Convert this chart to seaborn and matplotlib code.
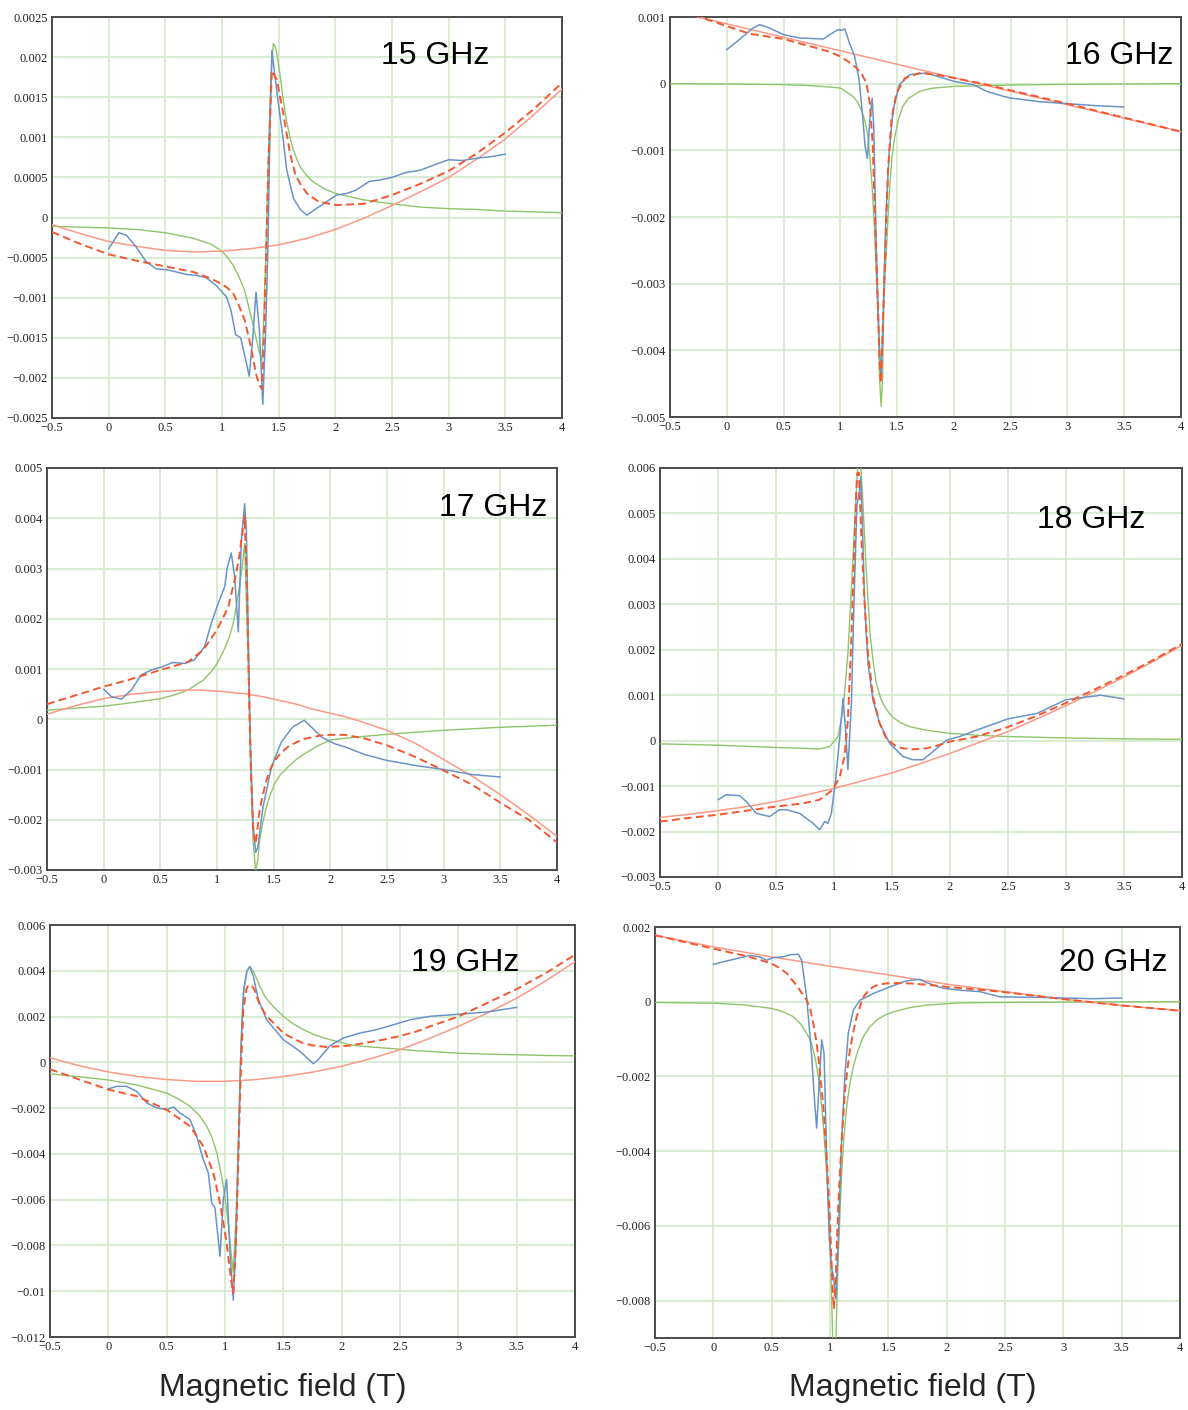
import matplotlib
matplotlib.use("Agg")
import matplotlib.pyplot as plt
from matplotlib.ticker import MultipleLocator, FuncFormatter
import seaborn as sns

# ---------------- 15 GHz ----------------
f15_data_x = [0, 0.09, 0.156, 0.244, 0.33, 0.42, 0.51, 0.6, 0.685, 0.77, 0.86, 0.95, 1.04, 1.08, 1.12,
              1.165, 1.21, 1.24, 1.27, 1.30, 1.33, 1.36, 1.385, 1.405, 1.425, 1.44, 1.49, 1.54, 1.57,
              1.63, 1.69, 1.75, 1.82, 1.9, 2.01, 2.1, 2.18, 2.3, 2.4, 2.5, 2.62, 2.75, 2.88, 3.0,
              3.12, 3.25, 3.38, 3.5]
f15_data_y = [-0.00039, -0.00019, -0.00022, -0.00037, -0.00055, -0.00064, -0.00065, -0.00068, -0.00071,
              -0.00072, -0.00075, -0.00085, -0.00099, -0.00116, -0.00146, -0.0015, -0.00178, -0.00198,
              -0.00153, -0.00093, -0.00141, -0.00233, -0.00141, -0.00037, 0.0012, 0.00208, 0.0015,
              0.00097, 0.0006, 0.00024, 0.0001, 0.00003, 0.0001, 0.000175, 0.00028, 0.0003, 0.00034,
              0.00045, 0.00047, 0.0005, 0.00056, 0.00059, 0.00066, 0.00072, 0.00071, 0.00074, 0.00076,
              0.00079]
f15_lor_x = [-0.5, -0.25, 0, 0.25, 0.5, 0.75, 0.9, 1.0, 1.05, 1.1, 1.15, 1.2, 1.25, 1.28, 1.3, 1.33,
             1.353, 1.37, 1.39, 1.41, 1.43, 1.453, 1.47, 1.483, 1.51, 1.54, 1.57, 1.6, 1.63, 1.66, 1.69,
             1.75, 1.8, 1.9, 2.0, 2.25, 2.5, 2.75, 3.0, 3.25, 3.5, 3.75, 4.0]
f15_lor_y = [-0.00011, -0.00012, -0.00013, -0.00015, -0.00019, -0.00026, -0.00033, -0.00042, -0.0005,
             -0.0006, -0.00074, -0.00091, -0.0012, -0.00137, -0.0015, -0.00168, -0.00178, -0.0012,
             -0.0003, 0.0008, 0.0017, 0.00217, 0.00213, 0.00205, 0.0018, 0.00147, 0.0012, 0.001,
             0.00084, 0.00073, 0.00063, 0.00052, 0.00045, 0.00036, 0.0003, 0.00022, 0.00017, 0.00013,
             0.00011, 0.0001, 0.00008, 0.00007, 0.00006]
f15_bg_x = [-0.5, -0.25, 0, 0.25, 0.5, 0.75, 1.0, 1.25, 1.5, 1.75, 2.0, 2.25, 2.5, 2.75, 3.0, 3.25, 3.5, 3.75, 4.0]
f15_bg_y = [-0.00009, -0.0002, -0.0003, -0.00036, -0.00041, -0.00043, -0.00042, -0.00039, -0.00034,
            -0.00026, -0.00015, -0.00001, 0.00015, 0.00032, 0.0005, 0.00073, 0.00098, 0.00128, 0.0016]
f15_fit_x = [-0.5, -0.25, 0, 0.25, 0.5, 0.75, 0.9, 1.0, 1.05, 1.1, 1.15, 1.2, 1.25, 1.28, 1.3, 1.33,
             1.353, 1.37, 1.39, 1.41, 1.44, 1.483, 1.54, 1.6, 1.65, 1.7, 1.75, 1.85, 2.0, 2.25, 2.5,
             2.75, 3.0, 3.25, 3.5, 3.75, 4.0]
f15_fit_y = [-0.00018, -0.00033, -0.00046, -0.00054, -0.00061, -0.00068, -0.00076, -0.00083, -0.00088,
             -0.00095, -0.0011, -0.00128, -0.00158, -0.0018, -0.00195, -0.00209, -0.00214, -0.0015,
             -0.0004, 0.0007, 0.00183, 0.00172, 0.0013, 0.0008, 0.00052, 0.0004, 0.0003, 0.0002,
             0.000155, 0.00017, 0.00028, 0.00042, 0.00058, 0.0008, 0.00106, 0.00135, 0.00168]

# ---------------- 16 GHz ----------------
f16_data_x = [0, 0.11, 0.23, 0.29, 0.376, 0.5, 0.64, 0.85, 0.906, 0.98, 1.01, 1.04, 1.08, 1.126, 1.165,
              1.194, 1.218, 1.238, 1.26, 1.28, 1.294, 1.318, 1.34, 1.359, 1.376, 1.40, 1.43, 1.465, 1.52,
              1.61, 1.76, 2.0, 2.17, 2.29, 2.435, 2.5, 2.75, 3.0, 3.25, 3.5]
f16_data_y = [0.00051, 0.00066, 0.000835, 0.000885, 0.000835, 0.000735, 0.000685, 0.00067, 0.000735,
              0.00081, 0.0008, 0.00082, 0.00061, 0.00041, 0.00006, -0.00044, -0.00094, -0.00112, -0.00054,
              -0.000215, -0.00064, -0.00254, -0.00379, -0.00444, -0.00354, -0.00204, -0.00104, -0.00039,
              -0.000015, 0.000135, 0.00016, 0.000035, -0.000015, -0.000115, -0.00019, -0.000215, -0.00027,
              -0.0003, -0.00033, -0.00035]
f16_lor_x = [-0.5, 0, 0.5, 0.75, 0.9, 1.0, 1.05, 1.11, 1.15, 1.185, 1.215, 1.244, 1.26, 1.28, 1.295,
             1.31, 1.32, 1.335, 1.345, 1.359, 1.373, 1.38, 1.39, 1.405, 1.42, 1.435, 1.455, 1.48, 1.51,
             1.55, 1.6, 1.7, 1.8, 2.0, 2.25, 2.5, 3.0, 4.0]
f16_lor_y = [0, -0.000005, -0.000015, -0.00003, -0.00005, -0.000065, -0.00012, -0.00019, -0.00027,
             -0.00039, -0.00055, -0.00079, -0.0011, -0.00154, -0.002, -0.00254, -0.003, -0.00354,
             -0.0044, -0.00484, -0.0044, -0.00354, -0.003, -0.00254, -0.002, -0.00154, -0.0011,
             -0.00079, -0.00055, -0.00034, -0.00022, -0.000115, -0.00007, -0.00004, -0.00003, -0.00002,
             -0.00001, 0]
f16_bg_x = [-0.5, 4.0]
f16_bg_y = [0.0011, -0.00072]
f16_fit_x = [-0.5, -0.24, 0.2, 0.35, 0.5, 0.65, 0.79, 0.9, 1.0, 1.07, 1.14, 1.19, 1.23, 1.26, 1.285,
             1.305, 1.33, 1.348, 1.358, 1.376, 1.40, 1.42, 1.45, 1.494, 1.57, 1.70, 1.85, 2.0, 2.29,
             2.5, 3.0, 3.5, 4.0]
f16_fit_y = [0.0011, 0.001, 0.00075, 0.00071, 0.00067, 0.0006, 0.000535, 0.00048, 0.00041, 0.00033,
             0.00024, 0.00014, 0.00001, -0.0003, -0.0009, -0.002, -0.0033, -0.0043, -0.00449, -0.00354,
             -0.00229, -0.00129, -0.00054, -0.00014, 0.000085, 0.00016, 0.000135, 0.000085, -0.000015,
             -0.0001, -0.0003, -0.00051, -0.00072]

# ---------------- 17 GHz ----------------
f17_data_x = [0, 0.068, 0.156, 0.244, 0.33, 0.42, 0.51, 0.61, 0.715, 0.80, 0.89, 0.95, 1.0, 1.068, 1.09,
              1.126, 1.156, 1.188, 1.215, 1.244, 1.259, 1.274, 1.294, 1.318, 1.341, 1.36, 1.406, 1.48,
              1.568, 1.67, 1.77, 1.83, 1.92, 2.04, 2.13, 2.3, 2.5, 2.75, 3.0, 3.25, 3.5]
f17_data_y = [0.0006, 0.00045, 0.0004, 0.00058, 0.00088, 0.00098, 0.00104, 0.00113, 0.00111, 0.00118,
              0.00144, 0.00191, 0.00224, 0.00264, 0.00301, 0.00331, 0.00284, 0.00174, 0.00357, 0.00429,
              0.00377, 0.00191, -0.00042, -0.00208, -0.00265, -0.00255, -0.00175, -0.00095, -0.00045,
              -0.00015, -0.00002, -0.00015, -0.00035, -0.00049, -0.00055, -0.0007, -0.00082, -0.00092,
              -0.001, -0.0011, -0.00115]
f17_lor_x = [-0.5, -0.25, 0, 0.25, 0.5, 0.62, 0.744, 0.88, 0.95, 1.0, 1.05, 1.10, 1.14, 1.17, 1.195,
             1.215, 1.23, 1.244, 1.274, 1.294, 1.318, 1.341, 1.36, 1.376, 1.4, 1.435, 1.47, 1.51, 1.56,
             1.626, 1.7, 1.77, 1.88, 2.0, 2.25, 2.5, 2.75, 3.0, 3.25, 3.5, 3.75, 4.0]
f17_lor_y = [0.00018, 0.00022, 0.00026, 0.00033, 0.00041, 0.00048, 0.00058, 0.00078, 0.00095, 0.00111,
             0.00132, 0.00158, 0.00188, 0.00224, 0.0026, 0.00291, 0.0032, 0.0035, 0.00124, -0.00075,
             -0.00242, -0.00301, -0.0028, -0.00242, -0.0021, -0.00175, -0.0015, -0.00128, -0.0011,
             -0.00095, -0.0008, -0.00069, -0.00054, -0.00041, -0.00035, -0.0003, -0.00026, -0.00022,
             -0.00019, -0.00016, -0.00014, -0.00012]
f17_bg_x = [-0.5, -0.25, 0, 0.25, 0.5, 0.7, 0.86, 1.0, 1.24, 1.4, 1.54, 1.7, 1.83, 2.0, 2.13, 2.25, 2.5,
            2.75, 3.0, 3.25, 3.5, 3.75, 4.0]
f17_bg_y = [0.0001, 0.00027, 0.00041, 0.0005, 0.00055, 0.00058, 0.00058, 0.00056, 0.00051, 0.00045,
            0.00038, 0.0003, 0.00021, 0.00012, 0.00005, -0.00003, -0.00022, -0.00048, -0.0008, -0.00113,
            -0.0015, -0.0019, -0.00233]
f17_fit_x = [-0.5, 0, 0.215, 0.5, 0.744, 0.88, 1.0, 1.06, 1.10, 1.17, 1.2, 1.215, 1.244, 1.265, 1.282,
             1.30, 1.32, 1.341, 1.376, 1.4, 1.435, 1.47, 1.51, 1.56, 1.626, 1.7, 1.77, 1.92, 2.0, 2.13,
             2.3, 2.5, 2.75, 3.0, 3.25, 3.5, 3.75, 4.0]
f17_fit_y = [0.0003, 0.00065, 0.00078, 0.00098, 0.00114, 0.00138, 0.00178, 0.00205, 0.00224, 0.00291,
             0.0033, 0.00357, 0.00404, 0.00258, 0.00058, -0.00108, -0.00222, -0.00248, -0.00182,
             -0.00155, -0.00122, -0.001, -0.00082, -0.00068, -0.00055, -0.00046, -0.00039, -0.00032,
             -0.00031, -0.00031, -0.00038, -0.00052, -0.00075, -0.00102, -0.0013, -0.00166, -0.002,
             -0.00245]

# ---------------- 18 GHz ----------------
f18_data_x = [0, 0.07, 0.187, 0.244, 0.33, 0.445, 0.53, 0.59, 0.704, 0.82, 0.876, 0.92, 0.948, 0.977,
              1.014, 1.05, 1.078, 1.1, 1.12, 1.15, 1.172, 1.198, 1.216, 1.23, 1.244, 1.264, 1.293, 1.336,
              1.394, 1.48, 1.595, 1.68, 1.767, 1.853, 1.97, 2.083, 2.227, 2.5, 2.75, 3.0, 3.3, 3.5]
f18_data_y = [-0.0013, -0.00119, -0.00121, -0.00134, -0.0016, -0.00167, -0.00152, -0.00152, -0.0016,
              -0.00182, -0.00196, -0.00178, -0.00182, -0.0016, -0.00086, 0.00009, 0.00093, 0.00023,
              -0.00064, 0.00082, 0.00302, 0.00521, 0.00543, 0.0058, 0.00485, 0.00302, 0.0017, 0.00089,
              0.00038, -0.00006, -0.00035, -0.00042, -0.00042, -0.00024, 0.00001, 0.00009, 0.00023,
              0.00048, 0.0006, 0.0009, 0.001, 0.00092]
f18_lor_x = [-0.5, 0, 0.5, 0.876, 0.963, 1.034, 1.078, 1.12, 1.158, 1.19, 1.218, 1.246, 1.278, 1.295,
             1.313, 1.34, 1.365, 1.4, 1.437, 1.47, 1.5, 1.57, 1.652, 1.72, 1.796, 2.0, 2.23, 2.5, 3.0,
             3.5, 4.0]
f18_lor_y = [-0.00007, -0.0001, -0.00015, -0.00018, -0.00013, 0.00009, 0.00067, 0.00192, 0.00375,
             0.0054, 0.0066, 0.0054, 0.00375, 0.003, 0.00228, 0.0017, 0.00126, 0.00095, 0.00075, 0.00063,
             0.00053, 0.0004, 0.00031, 0.00027, 0.00023, 0.00016, 0.00012, 0.00009, 0.00006, 0.00004,
             0.00003]
f18_bg_x = [-0.5, -0.25, 0, 0.25, 0.5, 0.75, 1.0, 1.25, 1.5, 1.75, 2.0, 2.25, 2.5, 2.75, 3.0, 3.25, 3.5,
            3.75, 4.0]
f18_bg_y = [-0.00169, -0.00162, -0.00154, -0.00145, -0.00134, -0.0012, -0.00105, -0.00088, -0.00071,
            -0.0005, -0.00028, -0.00004, 0.0002, 0.00048, 0.00077, 0.00108, 0.0014, 0.00174, 0.0021]
f18_fit_x = [-0.5, -0.25, 0, 0.25, 0.5, 0.733, 0.876, 0.99, 1.05, 1.09, 1.12, 1.15, 1.178, 1.198, 1.215,
             1.236, 1.264, 1.293, 1.336, 1.394, 1.45, 1.537, 1.6, 1.68, 1.796, 1.9, 2.0, 2.23, 2.5,
             2.75, 3.0, 3.25, 3.5, 3.75, 4.0]
f18_fit_y = [-0.00178, -0.0017, -0.00163, -0.00154, -0.00145, -0.00138, -0.0013, -0.00108, -0.00079,
             -0.00035, 0.00045, 0.00228, 0.00448, 0.00587, 0.0059, 0.00448, 0.00302, 0.00192, 0.00097,
             0.00038, 0.00005, -0.00013, -0.00017, -0.00019, -0.00017, -0.0001, -0.00002, 0.00009,
             0.0003, 0.00055, 0.00083, 0.00113, 0.00144, 0.00177, 0.00213]

# ---------------- 19 GHz ----------------
f19_data_x = [0, 0.071, 0.157, 0.243, 0.329, 0.414, 0.5, 0.557, 0.614, 0.7, 0.757, 0.814, 0.857, 0.886,
              0.914, 0.957, 0.986, 1.014, 1.043, 1.071, 1.094, 1.114, 1.134, 1.157, 1.186, 1.214, 1.243,
              1.286, 1.357, 1.5, 1.643, 1.757, 1.8, 1.9, 2.014, 2.157, 2.3, 2.443, 2.586, 2.757, 3.0,
              3.25, 3.5]
f19_data_y = [-0.00116, -0.00105, -0.00105, -0.00127, -0.00177, -0.00199, -0.00207, -0.00195, -0.00221,
              -0.0025, -0.00323, -0.00425, -0.00483, -0.00614, -0.00636, -0.00847, -0.00599, -0.00512,
              -0.00832, -0.01039, -0.00788, -0.00396, 0.00012, 0.00303, 0.00397, 0.00419, 0.00375,
              0.00273, 0.00186, 0.00099, 0.00048, -0.00006, 0.00012, 0.00073, 0.00106, 0.00128, 0.00143,
              0.00164, 0.00186, 0.00201, 0.0021, 0.0022, 0.0024]
f19_lor_x = [-0.5, -0.25, 0, 0.25, 0.5, 0.6, 0.7, 0.78, 0.843, 0.89, 0.93, 0.96, 0.986, 1.01, 1.03,
             1.05, 1.071, 1.09, 1.1, 1.114, 1.125, 1.137, 1.15, 1.166, 1.19, 1.214, 1.25, 1.3, 1.34,
             1.386, 1.44, 1.5, 1.58, 1.671, 1.77, 1.871, 1.97, 2.07, 2.2, 2.357, 2.5, 2.643, 2.8, 3.0,
             3.25, 3.5, 3.75, 4.0]
f19_lor_y = [-0.0005, -0.00063, -0.00077, -0.001, -0.00134, -0.0016, -0.00192, -0.00232, -0.00279,
             -0.0033, -0.00396, -0.0047, -0.00541, -0.0063, -0.00716, -0.0082, -0.00919, -0.00716,
             -0.006, -0.00352, -0.0015, 0.00084, 0.0023, 0.00332, 0.004, 0.00419, 0.0039, 0.00332,
             0.0029, 0.00259, 0.0023, 0.00201, 0.0017, 0.00143, 0.0012, 0.00103, 0.0009, 0.00077,
             0.00069, 0.00063, 0.00057, 0.00051, 0.00046, 0.0004, 0.00036, 0.00033, 0.0003, 0.00028]
f19_bg_x = [-0.5, -0.25, 0, 0.25, 0.5, 0.75, 1.0, 1.25, 1.5, 1.75, 2.0, 2.25, 2.5, 2.75, 3.0, 3.25, 3.5,
            3.75, 4.0]
f19_bg_y = [0.0002, -0.00015, -0.00042, -0.00062, -0.00075, -0.00083, -0.00083, -0.00076, -0.00062,
            -0.00043, -0.00017, 0.00016, 0.00055, 0.00104, 0.00157, 0.00216, 0.0028, 0.00356, 0.0044]
f19_fit_x = [-0.5, -0.25, 0, 0.243, 0.5, 0.7, 0.814, 0.9, 0.957, 1.014, 1.051, 1.071, 1.094, 1.114,
             1.134, 1.157, 1.186, 1.2, 1.223, 1.25, 1.271, 1.3, 1.357, 1.4, 1.5, 1.6, 1.671, 1.75, 1.871,
             2.07, 2.2, 2.357, 2.5, 2.643, 2.757, 3.0, 3.25, 3.5, 3.75, 4.0]
f19_fit_y = [-0.0003, -0.00075, -0.00119, -0.00148, -0.00207, -0.00279, -0.00367, -0.00483, -0.00614,
             -0.00788, -0.00948, -0.01007, -0.00788, -0.00425, -0.00061, 0.0023, 0.00324, 0.00335,
             0.00339, 0.0032, 0.00288, 0.0025, 0.00201, 0.0018, 0.00128, 0.001, 0.00084, 0.00074,
             0.00067, 0.00073, 0.00085, 0.00099, 0.00115, 0.00135, 0.00157, 0.002, 0.0026, 0.0032,
             0.0039, 0.0047]

# ---------------- 20 GHz ----------------
f20_data_x = [0, 0.114, 0.314, 0.4, 0.457, 0.514, 0.6, 0.657, 0.729, 0.757, 0.8, 0.843, 0.871, 0.886,
              0.909, 0.929, 0.949, 0.971, 0.994, 1.014, 1.029, 1.051, 1.071, 1.1, 1.129, 1.157, 1.2,
              1.257, 1.371, 1.514, 1.657, 1.771, 1.829, 1.971, 2.114, 2.286, 2.457, 2.75, 3.0, 3.25, 3.5]
f20_data_y = [0.001, 0.00109, 0.00124, 0.0012, 0.00111, 0.00118, 0.0012, 0.00126, 0.00127, 0.00111,
              0.00013, -0.00147, -0.0028, -0.00338, -0.00207, -0.00102, -0.00138, -0.00413, -0.00636,
              -0.00711, -0.00733, -0.00796, -0.00636, -0.00369, -0.00191, -0.00084, -0.00022, 0.00004,
              0.00022, 0.0004, 0.00056, 0.0006, 0.00051, 0.00036, 0.00031, 0.00027, 0.00013, 0.00012,
              0.0001, 0.00008, 0.0001]
f20_lor_x = [-0.5, 0, 0.25, 0.5, 0.6, 0.686, 0.75, 0.8, 0.84, 0.871, 0.9, 0.929, 0.95, 0.971, 0.985,
             1.0, 1.012, 1.023, 1.037, 1.051, 1.06, 1.071, 1.085, 1.1, 1.12, 1.143, 1.17, 1.2, 1.24,
             1.286, 1.34, 1.4, 1.47, 1.543, 1.68, 1.829, 2.114, 2.5, 3.0, 4.0]
f20_lor_y = [-0.00002, -0.00004, -0.00008, -0.00018, -0.00027, -0.0004, -0.0006, -0.00084, -0.0011,
             -0.00147, -0.002, -0.0028, -0.0036, -0.00458, -0.0054, -0.00636, -0.0077, -0.00902, -0.0098,
             -0.009, -0.008, -0.0068, -0.0057, -0.00458, -0.0036, -0.0028, -0.0022, -0.00173, -0.0013,
             -0.00093, -0.00068, -0.00049, -0.00036, -0.00027, -0.00016, -0.00009, -0.00003, -0.00002,
             -0.00001, 0]
f20_bg_x = [-0.5, 0, 0.5, 1.0, 1.5, 2.0, 2.5, 3.0, 3.5, 4.0]
f20_bg_y = [0.00178, 0.00147, 0.0012, 0.00095, 0.00072, 0.00047, 0.00027, 0.00007, -0.0001, -0.00024]
f20_fit_x = [-0.5, 0, 0.257, 0.4, 0.5, 0.57, 0.63, 0.67, 0.714, 0.75, 0.8, 0.83, 0.857, 0.88, 0.9, 0.92,
             0.943, 0.957, 0.971, 0.986, 1.0, 1.012, 1.023, 1.034, 1.051, 1.06, 1.071, 1.085, 1.1,
             1.115, 1.129, 1.15, 1.171, 1.2, 1.229, 1.26, 1.286, 1.33, 1.371, 1.42, 1.486, 1.55, 1.686,
             1.85, 2.0, 2.25, 2.457, 3.0, 3.5, 4.0]
f20_fit_y = [0.00178, 0.00142, 0.00124, 0.00112, 0.00102, 0.0009, 0.00076, 0.0006, 0.00044, 0.00027,
             0.00004, -0.0002, -0.00058, -0.001, -0.00147, -0.0021, -0.0028, -0.0035, -0.00413, -0.005,
             -0.00591, -0.0069, -0.00769, -0.00822, -0.00724, -0.0064, -0.00547, -0.0046, -0.00369,
             -0.003, -0.00236, -0.0018, -0.00129, -0.0008, -0.0004, -0.0001, 0.00013, 0.0003, 0.0004,
             0.00046, 0.00049, 0.0005, 0.00049, 0.00045, 0.0004, 0.00033, 0.00027, 0.00007, -0.0001,
             -0.00024]

freq_labels = ["15 GHz", "16 GHz", "17 GHz", "18 GHz", "19 GHz", "20 GHz"]
xlabel_text = "Magnetic field (T)"

panels = [
    dict(label=freq_labels[0], data=(f15_data_x, f15_data_y), lor=(f15_lor_x, f15_lor_y),
         bg=(f15_bg_x, f15_bg_y), fit=(f15_fit_x, f15_fit_y),
         ylim=(-0.0025, 0.0025), ystep=0.0005, box=(52, 17, 562, 418), txt=(435, 56)),
    dict(label=freq_labels[1], data=(f16_data_x, f16_data_y), lor=(f16_lor_x, f16_lor_y),
         bg=(f16_bg_x, f16_bg_y), fit=(f16_fit_x, f16_fit_y),
         ylim=(-0.005, 0.001), ystep=0.001, box=(670, 17, 1181, 417), txt=(1119, 56)),
    dict(label=freq_labels[2], data=(f17_data_x, f17_data_y), lor=(f17_lor_x, f17_lor_y),
         bg=(f17_bg_x, f17_bg_y), fit=(f17_fit_x, f17_fit_y),
         ylim=(-0.003, 0.005), ystep=0.001, box=(47, 468, 557, 870), txt=(493, 508)),
    dict(label=freq_labels[3], data=(f18_data_x, f18_data_y), lor=(f18_lor_x, f18_lor_y),
         bg=(f18_bg_x, f18_bg_y), fit=(f18_fit_x, f18_fit_y),
         ylim=(-0.003, 0.006), ystep=0.001, box=(660, 468, 1182, 877), txt=(1091, 520)),
    dict(label=freq_labels[4], data=(f19_data_x, f19_data_y), lor=(f19_lor_x, f19_lor_y),
         bg=(f19_bg_x, f19_bg_y), fit=(f19_fit_x, f19_fit_y),
         ylim=(-0.012, 0.006), ystep=0.002, box=(50, 925, 575, 1337), txt=(465, 963)),
    dict(label=freq_labels[5], data=(f20_data_x, f20_data_y), lor=(f20_lor_x, f20_lor_y),
         bg=(f20_bg_x, f20_bg_y), fit=(f20_fit_x, f20_fit_y),
         ylim=(-0.009, 0.002), ystep=0.002, box=(655, 927, 1180, 1338), txt=(1113, 963)),
]

W, H = 1188, 1410
sns.set_style("white")
plt.rcParams["font.family"] = ["Liberation Sans", "DejaVu Sans"]

C_DATA = "#6a93c6"
C_LOR = "#8fc46a"
C_BG = "#fa9a85"
C_FIT = "#f2572f"
C_GRID = "#d3e8cc"
C_AXIS = "#4a4a4a"


def tick_fmt(v, pos):
    s = "%g" % round(v, 6)
    if s in ("-0", "0.0", "-0.0"):
        s = "0"
    return s.replace("-", "\u2212")


fig = plt.figure(figsize=(W / 100, H / 100), dpi=100)
fig.patch.set_facecolor("white")

for p in panels:
    l, t, r, b = p["box"]
    ax = fig.add_axes([l / W, 1 - b / H, (r - l) / W, (b - t) / H])
    ax.set_facecolor("white")

    sns.lineplot(x=p["lor"][0], y=p["lor"][1], ax=ax, color=C_LOR, linewidth=1.0,
                 estimator=None, sort=False, zorder=3)
    sns.lineplot(x=p["bg"][0], y=p["bg"][1], ax=ax, color=C_BG, linewidth=1.1,
                 estimator=None, sort=False, zorder=3)
    sns.lineplot(x=p["data"][0], y=p["data"][1], ax=ax, color=C_DATA, linewidth=1.1,
                 estimator=None, sort=False, zorder=4)
    sns.lineplot(x=p["fit"][0], y=p["fit"][1], ax=ax, color=C_FIT, linewidth=1.4,
                 estimator=None, sort=False, zorder=5)
    ax.lines[-1].set_dashes([4, 2.2])
    for ln in ax.lines:
        ln.set_solid_joinstyle("round")

    ax.set_xlim(-0.5, 4.0)
    ax.set_ylim(*p["ylim"])
    ax.xaxis.set_major_locator(MultipleLocator(0.5))
    ax.xaxis.set_minor_locator(MultipleLocator(0.25))
    ax.yaxis.set_major_locator(MultipleLocator(p["ystep"]))
    ax.yaxis.set_minor_locator(MultipleLocator(p["ystep"] / 2))
    ax.xaxis.set_major_formatter(FuncFormatter(tick_fmt))
    ax.yaxis.set_major_formatter(FuncFormatter(tick_fmt))

    ax.grid(which="major", color=C_GRID, linewidth=1.2, zorder=0)
    ax.set_axisbelow(True)
    ax.tick_params(which="both", direction="in", color=C_AXIS, width=1.0,
                   top=False, right=False, labelcolor="#222222")
    ax.tick_params(which="major", length=5, pad=3)
    ax.tick_params(which="minor", length=4)
    for lab in ax.get_xticklabels() + ax.get_yticklabels():
        lab.set_fontfamily("Liberation Serif")
        lab.set_fontsize(9)
    for side in ("left", "bottom", "top", "right"):
        ax.spines[side].set_color(C_AXIS)
        ax.spines[side].set_linewidth(1.4)
    ax.set_xlabel("")
    ax.set_ylabel("")

    tx, ty = p["txt"]
    fig.text(tx / W, 1 - ty / H, p["label"], fontsize=23, ha="center", va="center",
             color="black")

fig.text(283 / W, 1 - 1388 / H, xlabel_text, fontsize=23, ha="center", va="center")
fig.text(913 / W, 1 - 1388 / H, xlabel_text, fontsize=23, ha="center", va="center")

fig.savefig("out.png", dpi=100, facecolor="white")
